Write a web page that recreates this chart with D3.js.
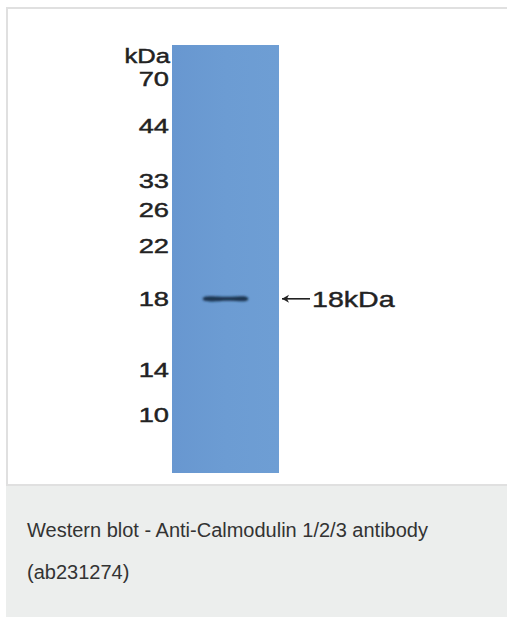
<!DOCTYPE html>
<html>
<head>
<meta charset="utf-8">
<script src="https://d3js.org/d3.v7.min.js"></script>
<style>
  body { margin: 0; background: #fff; }
  svg { display: block; }
</style>
</head>
<body>
<svg id="blot"></svg>
<script>
// marker ladder (kDa) and relative mobility down the lane (0 = well, 1 = lane end)
var markerKDa = [70, 44, 33, 26, 22, 18, 14, 10];
var markerRf = [0.079, 0.188, 0.317, 0.384, 0.468, 0.593, 0.759, 0.864];

// detected band(s)
var bandKDa = [18];
var bandRf = [0.593];
var bandLabels = ["18kDa"];

var caption = ["Western blot - Anti-Calmodulin 1/2/3 antibody", "(ab231274)"];

var width = 507, height = 617;
var lane = { x0: 172, x1: 279, top: 45, bottom: 473 };

var svg = d3.select("#blot")
    .attr("width", width)
    .attr("height", height);

var defs = svg.append("defs");
var grad = defs.append("linearGradient")
    .attr("id", "laneFill")
    .attr("x1", 0).attr("x2", 1).attr("y1", 0).attr("y2", 0);
grad.append("stop").attr("offset", 0).attr("stop-color", "#6897d0");
grad.append("stop").attr("offset", 0.5).attr("stop-color", "#6c9cd3");
grad.append("stop").attr("offset", 1).attr("stop-color", "#6e9ed4");

defs.append("filter")
    .attr("id", "soft")
    .attr("x", "-20%").attr("y", "-100%")
    .attr("width", "140%").attr("height", "300%")
  .append("feGaussianBlur")
    .attr("stdDeviation", 0.9);

// white figure panel + caption box
svg.append("rect")
    .attr("x", 7).attr("y", 8)
    .attr("width", width).attr("height", 477)
    .attr("fill", "#fff")
    .attr("stroke", "#e0e0e0")
    .attr("stroke-width", 2);

svg.append("rect")
    .attr("x", 6).attr("y", 486)
    .attr("width", width).attr("height", 131)
    .attr("fill", "#eceeed");

var y = d3.scaleLinear()
    .domain([0, 1])
    .range([lane.top, lane.bottom]);

var xLane = d3.scaleLinear()
    .domain([0, 1])
    .range([lane.x0, lane.x1]);

// membrane lane
svg.append("rect")
    .attr("x", lane.x0).attr("y", lane.top)
    .attr("width", lane.x1 - lane.x0)
    .attr("height", lane.bottom - lane.top)
    .attr("fill", "url(#laneFill)");

// marker labels, drawn wide like the original figure
var labels = svg.append("g")
    .attr("font-family", "Liberation Sans, Arial, sans-serif")
    .attr("font-size", 21)
    .attr("fill", "#222")
    .attr("stroke", "#222")
    .attr("stroke-width", 0.45);

labels.selectAll(".marker")
    .data(markerKDa)
  .enter()
  .append("text")
    .classed("marker", true)
    .attr("text-anchor", "end")
    .attr("transform", (d, i) => "translate(" + (lane.x0 - 3) + "," + (y(markerRf[i]) + 7.5) + ") scale(1.3,1)")
    .text(d => d);

labels.append("text")
    .attr("text-anchor", "end")
    .attr("transform", "translate(" + (lane.x0 - 2) + "," + (y(markerRf[0]) - 16) + ") scale(1.22,1)")
    .text("kDa");

// bands
var band = svg.selectAll(".band")
    .data(bandKDa)
  .enter()
  .append("g")
    .classed("band", true)
    .attr("filter", "url(#soft)");

var bandShape = d3.area()
    .x(d => xLane(d[0]))
    .y0(d => d[1] - d[2])
    .y1(d => d[1] + d[2])
    .curve(d3.curveBasis);

band.append("path")
    .attr("d", (d, i) => {
      var cy = y(bandRf[i]);
      var profile = [[0.285, 0], [0.30, 2.3], [0.36, 2.8], [0.46, 2.0], [0.56, 1.9], [0.64, 2.6], [0.70, 2.5], [0.715, 0]];
      return bandShape(profile.map(p => [p[0], cy, p[1]]));
    })
    .attr("fill", "#1d3550");

// band annotation: arrow + size
var ann = svg.selectAll(".band-label")
    .data(bandLabels)
  .enter()
  .append("g")
    .classed("band-label", true)
    .attr("transform", (d, i) => "translate(" + (lane.x1 + 3) + "," + y(bandRf[i]) + ")");

ann.append("path")
    .attr("d", "M0,0 L28,0")
    .attr("stroke", "#222")
    .attr("stroke-width", 1.6);
ann.append("path")
    .attr("d", "M0,0 L7,-4 L5,0 L7,4 Z")
    .attr("fill", "#222");

ann.append("text")
    .attr("font-family", "Liberation Sans, Arial, sans-serif")
    .attr("font-size", 22)
    .attr("fill", "#222")
    .attr("stroke", "#222")
    .attr("stroke-width", 0.4)
    .attr("transform", "translate(30,8) scale(1.3,1)")
    .text(d => d);

// caption
svg.append("g")
    .attr("font-family", "Liberation Sans, Arial, sans-serif")
    .attr("font-size", 20)
    .attr("fill", "#333")
  .selectAll("text")
    .data(caption)
  .enter()
  .append("text")
    .attr("x", 27)
    .attr("y", (d, i) => 537 + i * 42)
    .text(d => d);
</script>
</body>
</html>
